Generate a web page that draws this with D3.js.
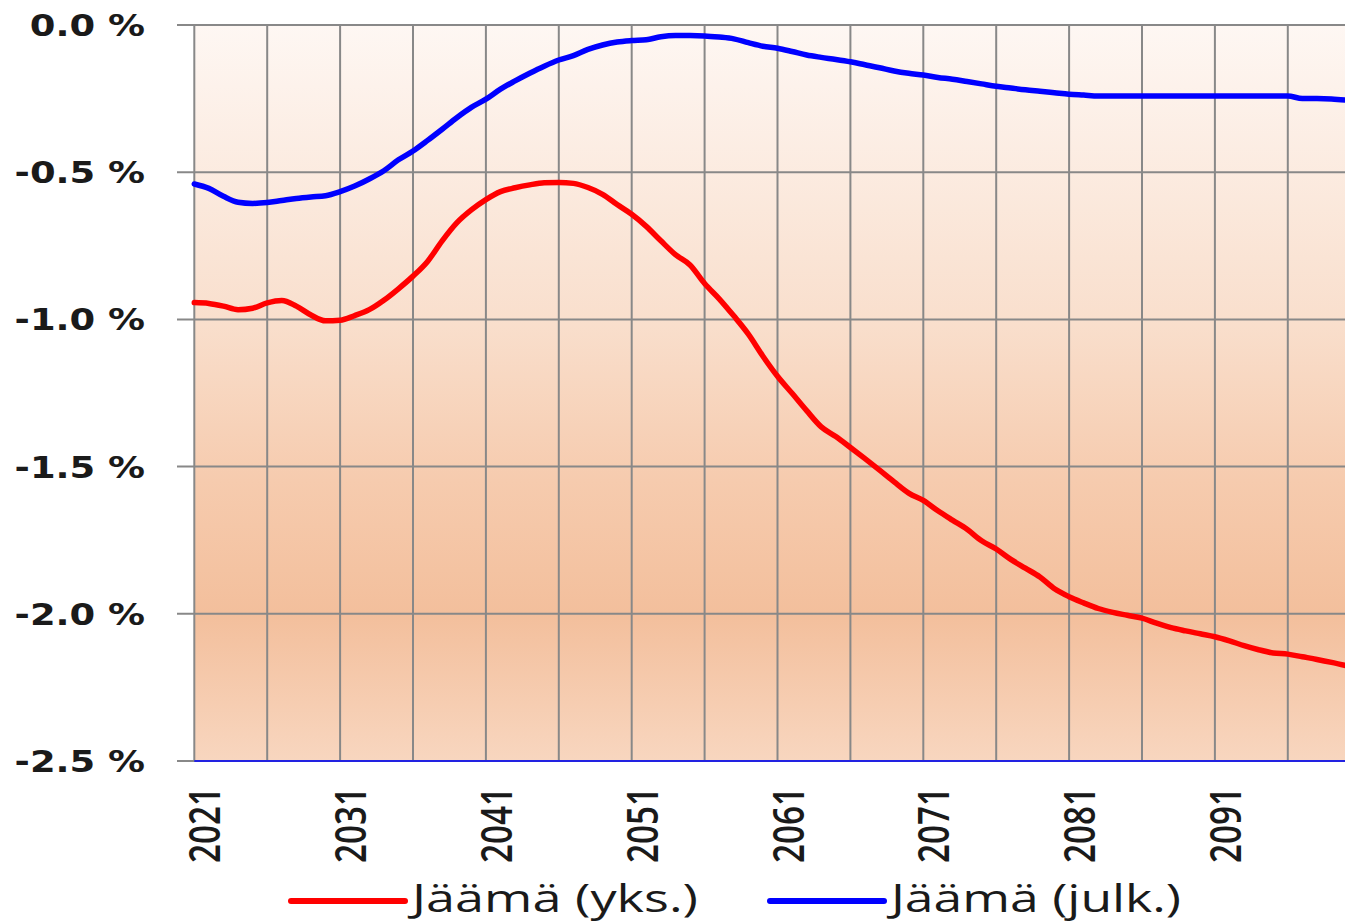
<!DOCTYPE html>
<html lang="fi">
<head>
<meta charset="utf-8">
<title>Jäämä</title>
<script src="https://d3js.org/d3.v7.min.js"></script>
<style>
  body { margin: 0; background: #fff; }
  svg { display: block; }
</style>
</head>
<body>
<script>
// vuodet ja sarjat (% BKT:sta), luettu kuvasta
var years = d3.range(2021, 2101);
var yks = [
  -0.943, -0.946, -0.955, -0.967, -0.962, -0.944, -0.936, -0.955, -0.985, -1.005,
  -1.003, -0.987, -0.967, -0.935, -0.896, -0.853, -0.803, -0.733, -0.672, -0.628,
  -0.593, -0.566, -0.553, -0.543, -0.536, -0.535, -0.538, -0.552, -0.575, -0.610,
  -0.643, -0.684, -0.733, -0.780, -0.815, -0.878, -0.930, -0.988, -1.050, -1.125,
  -1.193, -1.251, -1.310, -1.365, -1.398, -1.435, -1.473, -1.512, -1.552, -1.590,
  -1.615, -1.650, -1.682, -1.713, -1.752, -1.780, -1.815, -1.845, -1.875, -1.915,
  -1.942, -1.963, -1.982, -1.995, -2.005, -2.015, -2.032, -2.047, -2.058, -2.068,
  -2.078, -2.092, -2.108, -2.122, -2.133, -2.137, -2.146, -2.155, -2.165, -2.176
];
var julk = [
  -0.540, -0.555, -0.582, -0.602, -0.606, -0.603, -0.596, -0.589, -0.584, -0.580,
  -0.566, -0.547, -0.523, -0.495, -0.458, -0.428, -0.392, -0.354, -0.315, -0.280,
  -0.252, -0.218, -0.190, -0.164, -0.140, -0.119, -0.104, -0.083, -0.068, -0.058,
  -0.053, -0.050, -0.040, -0.036, -0.036, -0.037, -0.041, -0.047, -0.060, -0.072,
  -0.079, -0.090, -0.102, -0.110, -0.117, -0.125, -0.135, -0.145, -0.156, -0.164,
  -0.170, -0.178, -0.184, -0.192, -0.200, -0.208, -0.214, -0.220, -0.225, -0.230,
  -0.235, -0.238, -0.241, -0.241, -0.241, -0.241, -0.241, -0.241, -0.241, -0.241,
  -0.241, -0.241, -0.241, -0.241, -0.241, -0.241, -0.250, -0.250, -0.251, -0.255
];
var yTicks = [0, -0.5, -1.0, -1.5, -2.0, -2.5];
var yearLabels = [2021, 2031, 2041, 2051, 2061, 2071, 2081, 2091];
var gridYears = d3.range(2021, 2100, 5);
var seriesNames = ["Jäämä (yks.)", "Jäämä (julk.)"];
var seriesColors = ["#ff0000", "#0000ff"];

var W = 1345, H = 923;
var plotLeft = 194.3, plotTop = 25, plotBottom = 761;

var svg = d3.select("body").append("svg")
    .attr("width", W)
    .attr("height", H);

var x = d3.scaleLinear().domain([2021, 2100]).range([plotLeft, plotLeft + 79 * 14.58]);
var y = d3.scaleLinear().domain([-2.5, 0]).range([plotBottom, plotTop]);

// taustan liukuväri
var defs = svg.append("defs");
var grad = defs.append("linearGradient")
    .attr("id", "bg").attr("x1", 0).attr("y1", 0).attr("x2", 0).attr("y2", 1);
grad.append("stop").attr("offset", "0%").attr("stop-color", "#fef7f3");
grad.append("stop").attr("offset", "40%").attr("stop-color", "#f9dfcd");
grad.append("stop").attr("offset", "62%").attr("stop-color", "#f6cbae");
grad.append("stop").attr("offset", "80%").attr("stop-color", "#f3bf9c");
grad.append("stop").attr("offset", "100%").attr("stop-color", "#f8d6bf");

svg.append("rect")
    .attr("x", plotLeft).attr("y", plotTop)
    .attr("width", W - plotLeft).attr("height", plotBottom - plotTop)
    .attr("fill", "url(#bg)");

// ruudukko
svg.append("g").selectAll("line")
  .data(gridYears)
  .enter().append("line")
    .attr("x1", function(d) { return x(d); })
    .attr("x2", function(d) { return x(d); })
    .attr("y1", plotTop).attr("y2", plotBottom)
    .attr("stroke", "#888888").attr("stroke-width", 2);

svg.append("g").selectAll("line")
  .data(yTicks)
  .enter().append("line")
    .attr("x1", 177).attr("x2", W)
    .attr("y1", function(d) { return y(d); })
    .attr("y2", function(d) { return y(d); })
    .attr("stroke", "#888888").attr("stroke-width", 2);

// alareuna
svg.append("line")
    .attr("x1", plotLeft).attr("x2", W)
    .attr("y1", y(-2.5)).attr("y2", y(-2.5))
    .attr("stroke", "#0000ff").attr("stroke-width", 1.5);

// y-akselin tekstit
svg.append("g").selectAll("text")
  .data(yTicks)
  .enter().append("text")
    .attr("transform", function(d) { return "translate(145," + (y(d) + 11) + ") scale(1.19,1)"; })
    .attr("text-anchor", "end")
    .attr("font-family", "DejaVu Sans")
    .attr("font-weight", "bold")
    .attr("font-size", 31)
    .attr("fill", "#1a1a1a")
    .text(function(d) { return d3.format(".1f")(d).replace("−", "-") + " %"; });

// x-akselin vuodet
svg.append("g").selectAll("text")
  .data(yearLabels)
  .enter().append("text")
    .attr("transform", function(d) { return "translate(" + (x(d) + 26) + ",787) rotate(-90)"; })
    .attr("text-anchor", "end")
    .attr("font-family", "Open Sans")
    .attr("font-weight", 600)
    .attr("font-size", 43)
    .attr("textLength", 76)
    .attr("lengthAdjust", "spacingAndGlyphs")
    .attr("fill", "#1a1a1a")
    .text(function(d) { return d; });

// viivat
var line = d3.line()
    .x(function(d, i) { return x(years[i]); })
    .y(function(d) { return y(d); })
    .curve(d3.curveMonotoneX);

var plot = svg.append("g");
[yks, julk].forEach(function(s, i) {
  plot.append("path")
      .datum(s)
      .attr("d", line)
      .attr("fill", "none")
      .attr("stroke", seriesColors[i])
      .attr("stroke-width", 5.5)
      .attr("stroke-linejoin", "round")
      .attr("stroke-linecap", "round");
});

// selite
var legX = [291, 770];
var legW = [286, 290];
seriesNames.forEach(function(n, i) {
  svg.append("line")
      .attr("x1", legX[i]).attr("x2", legX[i] + 114)
      .attr("y1", 901).attr("y2", 901)
      .attr("stroke", seriesColors[i])
      .attr("stroke-width", 6)
      .attr("stroke-linecap", "round");
  svg.append("text")
      .attr("x", legX[i] + 121)
      .attr("y", 912)
      .attr("font-family", "Open Sans")
      .attr("font-size", 38)
      .attr("textLength", legW[i])
      .attr("lengthAdjust", "spacingAndGlyphs")
      .attr("fill", "#1a1a1a")
      .text(n);
});
</script>
</body>
</html>
